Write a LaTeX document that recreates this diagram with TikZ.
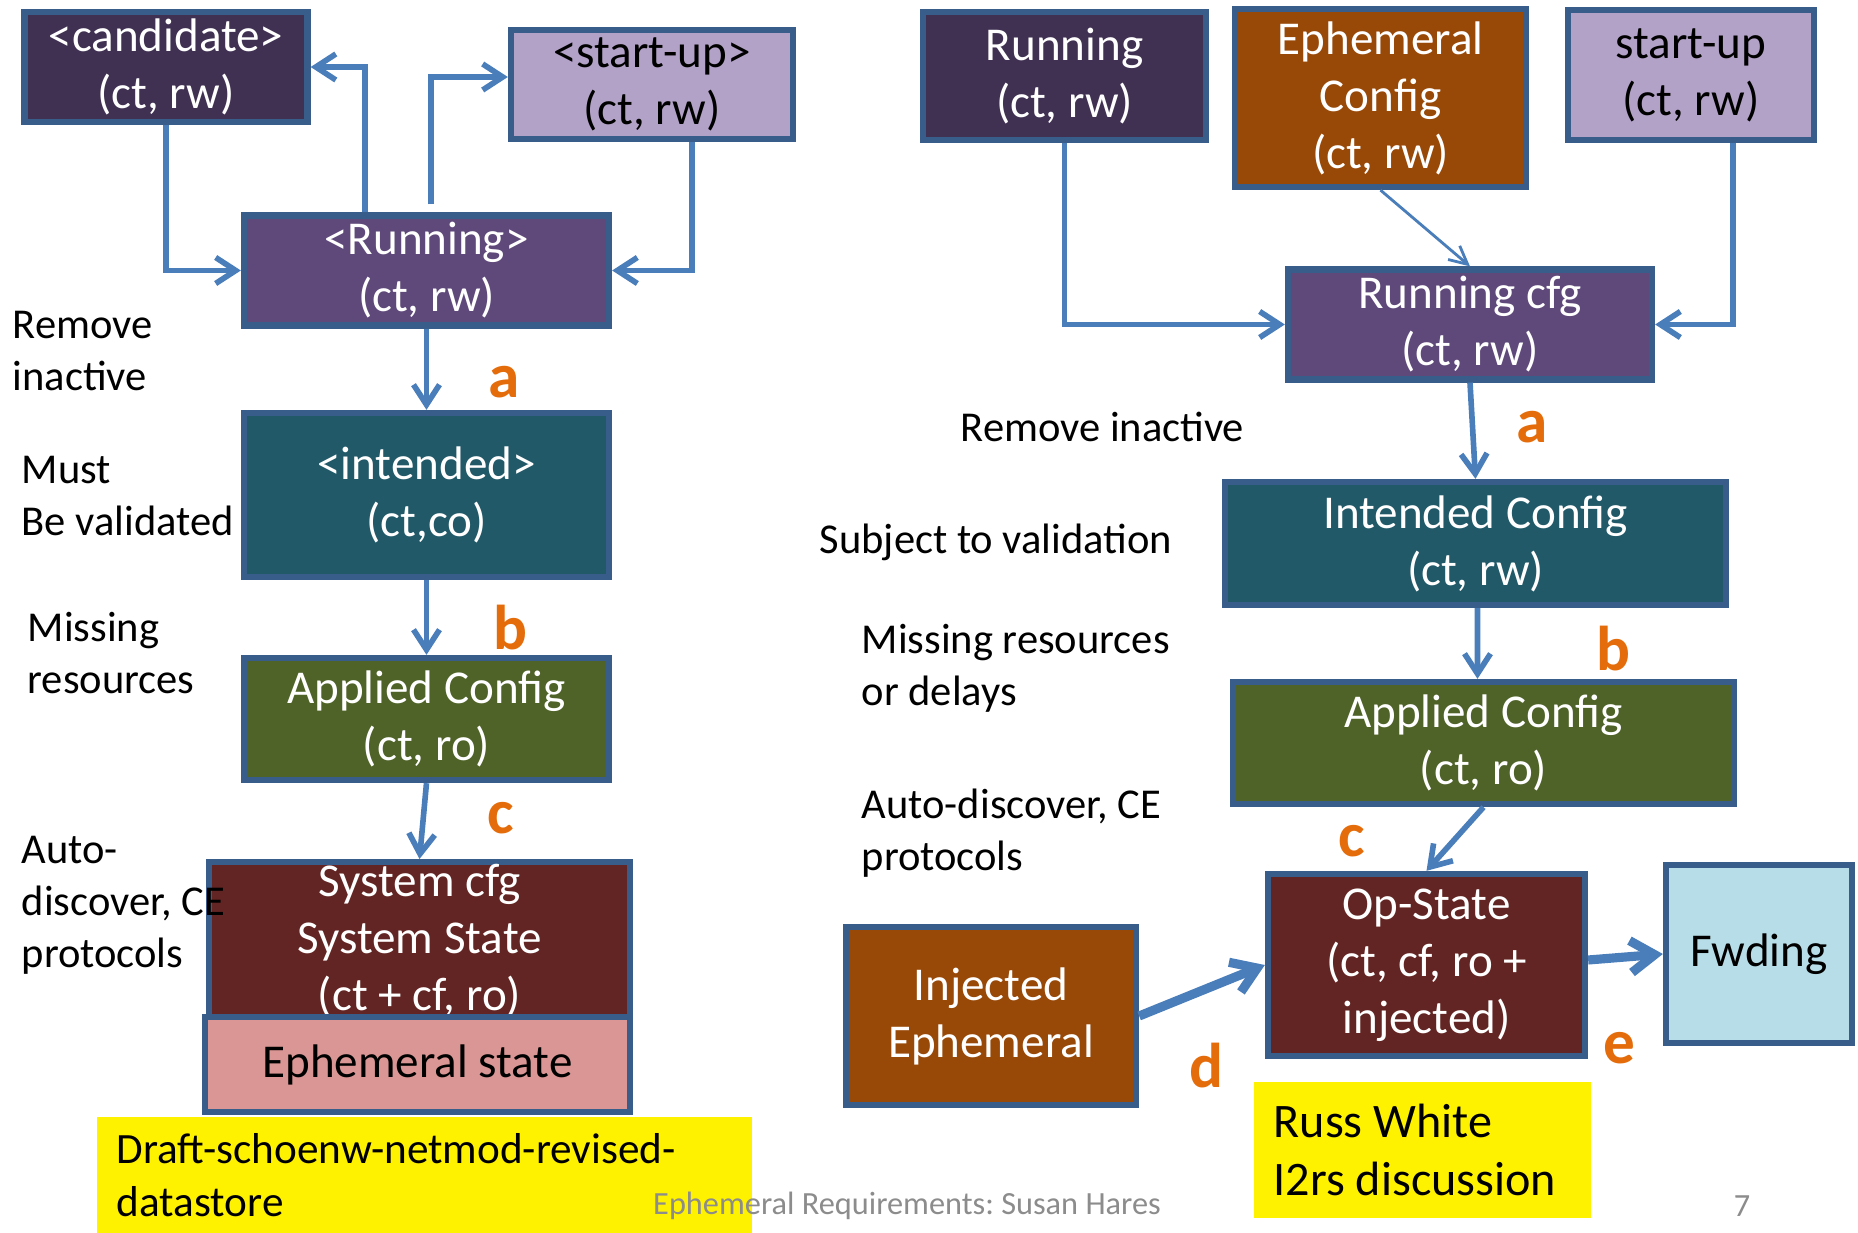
\documentclass[tikz,border=0pt]{standalone}
\usepackage{tikz}
\usepackage{xcolor}
\usepackage{fontspec}
\setmainfont{Carlito}
\usetikzlibrary{arrows.meta}
\frenchspacing

\definecolor{edgeblue}{HTML}{385D8A}
\definecolor{arrowblue}{HTML}{4A7EBB}
\definecolor{darkplum}{HTML}{403152}
\definecolor{lilac}{HTML}{B3A2C7}
\definecolor{plum}{HTML}{5F497A}
\definecolor{deepteal}{HTML}{215968}
\definecolor{moss}{HTML}{4F6228}
\definecolor{maroonred}{HTML}{632523}
\definecolor{rosepink}{HTML}{D99694}
\definecolor{rust}{HTML}{984807}
\definecolor{paleblue}{HTML}{B7DEE8}
\definecolor{letterorange}{HTML}{E46C0A}
\definecolor{footgray}{HTML}{8C8C8C}

\begin{document}
\begin{tikzpicture}[y=-1cm,
  >={Straight Barb[length=2mm,width=2.6mm]},
  store/.style={draw=edgeblue, line width=1.8pt, text=white, align=center, inner sep=2pt,
    font=\fontsize{13.4}{16.2}\selectfont},
  flow/.style={->, draw=arrowblue, line width=1.6pt},
  bigflow/.style={-{Straight Barb[length=2.4mm,width=3.2mm]}, draw=arrowblue, line width=2.6pt},
  thinflow/.style={-{Straight Barb[length=1.8mm,width=1.8mm]}, draw=arrowblue, line width=0.8pt},
  letter/.style={text=letterorange, font=\fontsize{18}{20}\bfseries\selectfont},
  note/.style={align=flush left, anchor=west, inner sep=0pt, font=\fontsize{12.1}{14.8}\selectfont},
  sticky/.style={fill=yellow, anchor=north west, align=flush left, inner xsep=0.2cm, inner ysep=0pt}]
\useasboundingbox (0,0) rectangle (18.58,12.33);

% left: datastores of the revised-datastore draft
\node[store, fill=darkplum, minimum width=2.83cm, minimum height=1.09cm] (cand) at (1.66,0.67) {<candidate>\\(ct, rw)};
\node[store, fill=lilac, text=black, minimum width=2.82cm, minimum height=1.09cm] (su) at (6.52,0.845) {<start-up>\\(ct, rw)};
\node[store, fill=plum, minimum width=3.65cm, minimum height=1.09cm] (run) at (4.265,2.705) {<Running>\\(ct, rw)};
\node[store, fill=deepteal, minimum width=3.65cm, minimum height=1.64cm] (int) at (4.265,4.95) {<intended>\\(ct,co)};
\node[store, fill=moss, minimum width=3.65cm, minimum height=1.22cm] (app) at (4.265,7.19) {Applied Config\\(ct, ro)};
\node[store, fill=maroonred, minimum width=4.21cm, minimum height=1.57cm, inner sep=0pt, anchor=north] (sys) at (4.195,8.59) {System cfg\\System State\\(ct + cf, ro)};
\node[store, fill=rosepink, text=black, minimum width=4.25cm, minimum height=0.95cm] (ephst) at (4.175,10.645) {Ephemeral state};

\draw[flow] (cand.south) |- (run.west);
\draw[flow] ([xshift=-0.615cm]run.north) |- (cand.east);
\draw[flow] ([shift={(0.045cm,0.08cm)}]run.north) |- ([yshift=0.075cm]su.west);
\draw[flow] ([xshift=0.4cm]su.south) |- (run.east);
\draw[flow] (run) -- (int);
\draw[flow] (int) -- (app);
\draw[flow] (app.south) -- (sys.north);

\node[letter] (la) at (5.04,3.82) {a};
\node[letter] (lb) at (5.10,6.28) {b};
\node[letter] (lc) at (5.01,8.18) {c};

\node[note] (remove) at (0.12,3.51) {Remove\\inactive};
\node[note] (must) at (0.21,4.96) {Must\\Be validated};
\node[note] (missing) at (0.27,6.53) {Missing\\resources};
\node[note] (auto) at (0.21,9.05) {Auto-\\discover, CE\\protocols};

\node[sticky, text width=6.15cm, minimum height=1.17cm, font=\fontsize{12.3}{15}\selectfont] (draft) at (0.96,11.16) {Draft-schoenw-netmod-revised-\\datastore};

% right: the i2rs view with ephemeral state
\node[store, fill=darkplum, minimum width=2.83cm, minimum height=1.28cm] (run2) at (10.645,0.76) {Running\\(ct, rw)};
\node[store, fill=rust, minimum width=2.91cm, minimum height=1.78cm] (ephcfg) at (13.805,0.98) {Ephemeral\\Config\\(ct, rw)};
\node[store, fill=lilac, text=black, minimum width=2.46cm, minimum height=1.30cm] (su2) at (16.91,0.75) {start-up\\(ct, rw)};
\node[store, fill=plum, minimum width=3.64cm, minimum height=1.09cm] (rcfg) at (14.70,3.245) {Running cfg\\(ct, rw)};
\node[store, fill=deepteal, minimum width=5.01cm, minimum height=1.23cm] (int2) at (14.755,5.435) {Intended Config\\(ct, rw)};
\node[store, fill=moss, minimum width=5.01cm, minimum height=1.22cm] (app2) at (14.835,7.43) {Applied Config\\(ct, ro)};
\node[store, fill=maroonred, minimum width=3.17cm, minimum height=1.82cm] (op) at (14.265,9.65) {Op-State\\(ct, cf, ro +\\injected)};
\node[store, fill=paleblue, text=black, minimum width=1.86cm, minimum height=1.78cm] (fwd) at (17.59,9.54) {Fwding};
\node[store, fill=rust, minimum width=2.90cm, minimum height=1.78cm] (inj) at (9.91,10.16) {Injected\\Ephemeral};

\draw[flow] (run2.south) |- (rcfg.west);
\draw[thinflow] (ephcfg.south) -- (rcfg.north);
\draw[flow] ([xshift=0.42cm]su2.south) |- (rcfg.east);
\draw[flow] (rcfg.south) -- (int2.north);
\draw[flow] ([xshift=0.02cm]int2.south) -- ([xshift=-0.06cm]app2.north);
\draw[flow] (app2.south) -- (op.north);
\draw[bigflow] (inj.east) -- (op.west);
\draw[bigflow] ([yshift=0.05cm]op.east) -- (fwd.west);

\node[letter] (ra) at (15.32,4.27) {a};
\node[letter] (rb) at (16.13,6.49) {b};
\node[letter] (rc) at (13.52,8.41) {c};
\node[letter] (rd) at (12.06,10.66) {d};
\node[letter] (re) at (16.19,10.48) {e};

\node[note] (remove2) at (9.60,4.27) {Remove inactive};
\node[note] (subject) at (8.19,5.42) {Subject to validation};
\node[note] (missing2) at (8.61,6.68) {Missing resources\\or delays};
\node[note] (auto2) at (8.61,8.33) {Auto-discover, CE\\protocols};

\node[sticky, text width=2.97cm, minimum height=1.36cm, font=\fontsize{13.7}{16.5}\selectfont] (russ) at (12.53,10.81) {Russ White\\I2rs discussion};

% footer
\node[text=footgray, font=\fontsize{9.2}{11}\selectfont] (foot) at (9.07,12.06) {Ephemeral Requirements: Susan Hares};
\node[text=footgray, font=\fontsize{9.2}{11}\selectfont] (page) at (17.42,12.06) {7};
\end{tikzpicture}
\end{document}
